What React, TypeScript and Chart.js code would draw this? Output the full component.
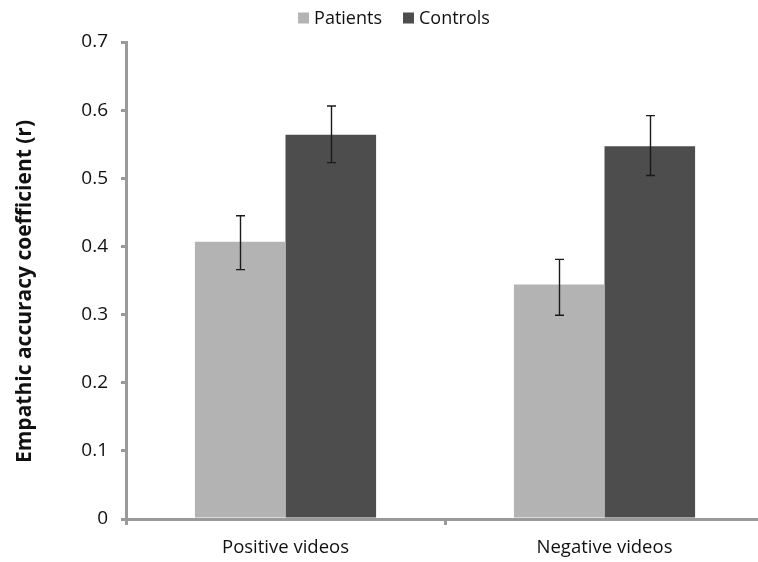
import React, { useEffect, useRef } from "react";
import { Chart, registerables } from "chart.js";

Chart.register(...registerables);

const categories = ["Positive videos", "Negative videos"];
const seriesNames = ["Patients", "Controls"];
const seriesColors = ["#b3b3b3", "#4d4d4d"];
const patientsMean = [0.407, 0.344];
const controlsMean = [0.564, 0.547];
const patientsLow = [0.366, 0.299];
const patientsHigh = [0.445, 0.381];
const controlsLow = [0.523, 0.504];
const controlsHigh = [0.606, 0.592];
const yTicks = [0, 0.1, 0.2, 0.3, 0.4, 0.5, 0.6, 0.7];
const yTitle = "Empathic accuracy coefficient (r)";

const FONT = "'Open Sans', sans-serif";
const AXIS = "#9a9a9a";

const errorBarPlugin = {
  id: "errorBars",
  afterDatasetsDraw(chart: any) {
    const ctx = chart.ctx;
    const yScale = chart.scales.y;
    const ranges = [
      [patientsLow, patientsHigh],
      [controlsLow, controlsHigh],
    ];
    ctx.save();
    ctx.strokeStyle = "#1a1a1a";
    ctx.lineWidth = 1.4;
    ranges.forEach((r, di) => {
      const meta = chart.getDatasetMeta(di);
      meta.data.forEach((bar: any, i: number) => {
        const x = Math.round(bar.x) + 0.5;
        const yl = yScale.getPixelForValue(r[0][i]);
        const yh = yScale.getPixelForValue(r[1][i]);
        ctx.beginPath();
        ctx.moveTo(x, yl);
        ctx.lineTo(x, yh);
        ctx.moveTo(x - 4.5, yl);
        ctx.lineTo(x + 4.5, yl);
        ctx.moveTo(x - 4.5, yh);
        ctx.lineTo(x + 4.5, yh);
        ctx.stroke();
      });
    });
    ctx.restore();
  },
};

const yTitlePlugin = {
  id: "yTitle",
  afterDraw(chart: any) {
    const ctx = chart.ctx;
    const area = chart.chartArea;
    ctx.save();
    ctx.translate(25, (area.top + area.bottom) / 2 + 11);
    ctx.rotate(-Math.PI / 2);
    ctx.fillStyle = "#111";
    ctx.font = "bold 21px " + FONT;
    ctx.textAlign = "center";
    ctx.textBaseline = "middle";
    ctx.fillText(yTitle, 0, 0);
    ctx.restore();
  },
};

// Legend drawn manually (box, 5px gap, text; 21px between items), centred at x=394
const legendPlugin = {
  id: "customLegend",
  afterDraw(chart: any) {
    const ctx = chart.ctx;
    ctx.save();
    ctx.font = "18px " + FONT;
    ctx.textBaseline = "middle";
    ctx.textAlign = "left";
    const box = 11;
    const gap = 5;
    const between = 21;
    const widths = seriesNames.map((n) => box + gap + ctx.measureText(n).width);
    const total = widths.reduce((a, b) => a + b, 0) + between * (widths.length - 1);
    let x = 394 - total / 2;
    const cy = 19;
    seriesNames.forEach((n, i) => {
      ctx.fillStyle = seriesColors[i];
      ctx.fillRect(x, cy - box / 2 - 1, box, box);
      ctx.fillStyle = "#111";
      ctx.fillText(n, x + box + gap, cy);
      x += widths[i] + between;
    });
    ctx.restore();
  },
};

export default function App() {
  const ref = useRef<HTMLCanvasElement>(null);
  useEffect(() => {
    if (!ref.current) return;
    const chart = new Chart(ref.current, {
      type: "bar",
      data: {
        labels: categories,
        datasets: [
          {
            label: seriesNames[0],
            data: patientsMean,
            backgroundColor: seriesColors[0],
            categoryPercentage: 0.568,
            barPercentage: 1.0,
          },
          {
            label: seriesNames[1],
            data: controlsMean,
            backgroundColor: seriesColors[1],
            categoryPercentage: 0.568,
            barPercentage: 1.0,
          },
        ],
      },
      options: {
        animation: false,
        responsive: false,
        maintainAspectRatio: false,
        layout: { padding: { top: 42, right: 0, left: 0, bottom: 0 } },
        plugins: {
          legend: { display: false },
          tooltip: { enabled: false },
        },
        scales: {
          x: {
            afterFit: (scale: any) => {
              scale.height = 43;
            },
            grid: {
              offset: true,
              drawOnChartArea: false,
              drawTicks: true,
              tickLength: 6,
              color: AXIS,
              lineWidth: 3,
            },
            border: { display: true, color: AXIS, width: 3 },
            ticks: {
              color: "#111",
              font: { family: FONT, size: 18.5 },
              padding: 12,
            },
          },
          y: {
            min: 0,
            max: 0.7,
            afterBuildTicks: (scale: any) => {
              scale.ticks = yTicks.map((v) => ({ value: v }));
            },
            afterFit: (scale: any) => {
              scale.width = 126;
            },
            grid: {
              drawOnChartArea: false,
              drawTicks: true,
              tickLength: 5,
              color: AXIS,
              lineWidth: 3,
            },
            border: { display: true, color: AXIS, width: 3 },
            ticks: {
              color: "#111",
              font: { family: FONT, size: 19 },
              padding: 13,
              callback: (v: any) => (v === 0 ? "0" : Number(v).toFixed(1)),
            },
          },
        },
      },
      plugins: [errorBarPlugin, yTitlePlugin, legendPlugin],
    });
    return () => chart.destroy();
  }, []);
  return (
    <div
      style={{
        position: "fixed",
        left: 0,
        top: 0,
        width: 758,
        height: 562,
        overflow: "hidden",
        background: "#fff",
      }}
    >
      <canvas ref={ref} width={764} height={562} style={{ display: "block" }} />
    </div>
  );
}
